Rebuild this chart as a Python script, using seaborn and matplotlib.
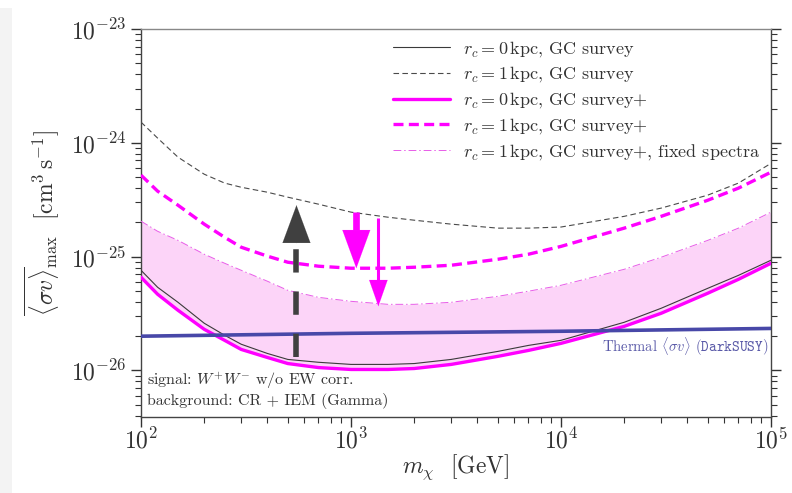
import matplotlib
matplotlib.use("Agg")
import matplotlib.pyplot as plt
from matplotlib.patches import Rectangle
import numpy as np
import seaborn as sns

# ---------------- data ----------------
mass = [100, 120, 150, 200, 250, 300, 400, 500, 700, 1000, 1500, 2000, 3000, 5000,
        7000, 1e4, 2e4, 3e4, 5e4, 7e4, 1e5]

rc0_survey = [7.59e-26, 5.38e-26, 3.97e-26, 2.60e-26, 2.04e-26, 1.70e-26, 1.41e-26,
              1.25e-26, 1.18e-26, 1.13e-26, 1.13e-26, 1.15e-26, 1.25e-26, 1.47e-26,
              1.66e-26, 1.84e-26, 2.65e-26, 3.52e-26, 5.27e-26, 6.85e-26, 9.30e-26]
rc1_survey = [1.52e-24, 1.10e-24, 7.48e-25, 5.30e-25, 4.43e-25, 4.07e-25, 3.68e-25,
              3.33e-25, 2.89e-25, 2.46e-25, 2.22e-25, 2.09e-25, 1.93e-25, 1.78e-25,
              1.78e-25, 1.82e-25, 2.26e-25, 2.67e-25, 3.47e-25, 4.43e-25, 6.60e-25]
rc0_surveyp = [6.59e-26, 4.67e-26, 3.38e-26, 2.30e-26, 1.84e-26, 1.53e-26, 1.30e-26,
               1.15e-26, 1.06e-26, 1.02e-26, 1.02e-26, 1.04e-26, 1.13e-26, 1.33e-26,
               1.50e-26, 1.73e-26, 2.44e-26, 3.18e-26, 4.77e-26, 6.32e-26, 8.75e-26]
rc1_surveyp = [5.20e-25, 3.76e-25, 2.83e-25, 1.93e-25, 1.48e-25, 1.21e-25, 1.01e-25,
               8.93e-26, 8.24e-26, 7.91e-26, 7.91e-26, 8.07e-26, 8.40e-26, 9.48e-26,
               1.05e-25, 1.23e-25, 1.78e-25, 2.26e-25, 3.13e-25, 4.00e-25, 5.52e-25]
rc1_fixed = [2.05e-25, 1.67e-25, 1.39e-25, 1.05e-25, 8.75e-26, 7.59e-26, 6.08e-26,
             5.06e-26, 4.39e-26, 4.05e-26, 3.81e-26, 3.81e-26, 3.97e-26, 4.48e-26,
             4.97e-26, 5.60e-26, 7.74e-26, 9.88e-26, 1.39e-25, 1.78e-25, 2.46e-25]

thermal_mass = [100, 1000, 1e4, 1e5]
thermal_sv = [2.00e-26, 2.12e-26, 2.21e-26, 2.34e-26]

legend_labels = [r"$r_c = 0\,\mathrm{kpc}$, GC survey",
                 r"$r_c = 1\,\mathrm{kpc}$, GC survey",
                 r"$r_c = 0\,\mathrm{kpc}$, GC survey+",
                 r"$r_c = 1\,\mathrm{kpc}$, GC survey+",
                 r"$r_c = 1\,\mathrm{kpc}$, GC survey+, fixed spectra"]

# annotation arrows: (mass, shaft start, head base, tip)
gray_arrow = (550, 1.30e-26, 1.31e-25, 2.83e-25)
mag_arrow1 = (1060, 2.46e-25, 1.71e-25, 7.9e-26)
mag_arrow2 = (1350, 2.20e-25, 6.19e-26, 3.66e-26)

# ---------------- style ----------------
sns.set_style("ticks")
plt.rcParams["font.family"] = ["cmr10", "DejaVu Serif"]
plt.rcParams["mathtext.fontset"] = "cm"
plt.rcParams["axes.formatter.use_mathtext"] = True
plt.rcParams["axes.unicode_minus"] = True

W, H = 792, 493
fig = plt.figure(figsize=(W / 100, H / 100), dpi=100)
fig.patch.set_facecolor("white")
# faint screenshot border on the left
fig.patches.append(Rectangle((0, 0), 12 / W, (H - 8) / H, transform=fig.transFigure,
                             facecolor="#f3f3f3", edgecolor="none", zorder=-10))

L, R, T, B = 141, 771, 29, 417
ax = fig.add_axes([L / W, (H - B) / H, (R - L) / W, (B - T) / H])
ax.set_facecolor("white")
ax.set_xscale("log")
ax.set_yscale("log")

magenta = "#ff00ff"
ax.fill_between(mass, rc0_surveyp, rc1_fixed, color="#fcd4f8", lw=0, zorder=1)

sns.lineplot(x=mass, y=rc0_survey, ax=ax, color="#3a3a3a", lw=0.8,
             label=legend_labels[0], zorder=4)
sns.lineplot(x=mass, y=rc1_survey, ax=ax, color="#4a4a4a", lw=0.8,
             linestyle=(0, (5, 3)), label=legend_labels[1], zorder=4)
sns.lineplot(x=mass, y=rc0_surveyp, ax=ax, color=magenta, lw=2.4,
             label=legend_labels[2], zorder=3)
sns.lineplot(x=mass, y=rc1_surveyp, ax=ax, color=magenta, lw=2.4,
             linestyle=(0, (3.0, 1.6)), label=legend_labels[3], zorder=3)
sns.lineplot(x=mass, y=rc1_fixed, ax=ax, color="#e85ce8", lw=0.7,
             linestyle=(0, (8, 3, 1.5, 3)), label=legend_labels[4], zorder=3)

sns.lineplot(x=thermal_mass, y=thermal_sv, ax=ax, color="#4848a8", lw=2.6,
             zorder=5, legend=False)
ax.text(0.995, 2.05e-26, r"Thermal $\langle\sigma v\rangle$ ($\mathtt{DarkSUSY}$)",
        transform=ax.get_yaxis_transform(), ha="right", va="top",
        fontsize=10.5, color="#5a5aa8", zorder=6)

# gray dashed arrow
gm, gs, gb, gt = gray_arrow
ax.plot([gm, gm], [gs, gb], color="#404040", lw=4.0, linestyle=(0, (4.2, 3.4)),
        solid_capstyle="butt", dash_capstyle="butt", zorder=6)
ax.annotate("", xy=(gm, gt), xytext=(gm, gb),
            arrowprops=dict(arrowstyle="-|>,head_length=1.35,head_width=0.5",
                            mutation_scale=20, color="#404040", lw=0.1,
                            shrinkA=0, shrinkB=0), zorder=7)
# magenta arrows: shaft + head
for (mm, s, hb, tip), lw, hl, hw in [(mag_arrow1, 4.8, 1.37, 0.5),
                                      (mag_arrow2, 2.2, 0.94, 0.33)]:
    ax.plot([mm, mm], [s, hb], color=magenta, lw=lw, solid_capstyle="butt", zorder=7)
    ax.annotate("", xy=(mm, tip), xytext=(mm, hb),
                arrowprops=dict(arrowstyle=f"-|>,head_length={hl},head_width={hw}",
                                mutation_scale=20, color=magenta, lw=0.1,
                                shrinkA=0, shrinkB=0), zorder=7)

ax.text(0.01, 0.093, r"signal: $W^{+}W^{-}$ w/o EW corr.", transform=ax.transAxes,
        fontsize=11.5, color="#333333", va="center", ha="left")
ax.text(0.01, 0.041, "background: CR + IEM (Gamma)", transform=ax.transAxes,
        fontsize=11.5, color="#333333", va="center", ha="left")

ax.set_xlim(1e2, 1e5)
ax.set_ylim(3.9e-27, 1e-23)

ax.set_xlabel(r"$m_\chi$  [GeV]", fontsize=17, color="#333333", labelpad=-1)
ax.set_ylabel(r"$\overline{\langle \sigma v\rangle}_{\rm max}$  $[\mathrm{cm}^3\,\mathrm{s}^{-1}]$",
              fontsize=17, color="#333333", labelpad=6)

ax.tick_params(axis="both", which="both", direction="out", right=True, top=False,
               colors="#333333", labelsize=17)
ax.tick_params(axis="x", which="major", pad=1)
ax.tick_params(axis="both", which="major", length=7, width=1.0)
ax.tick_params(axis="both", which="minor", length=4, width=0.8)
for s in ax.spines.values():
    s.set_color("#444444")
    s.set_linewidth(1.0)
ax.spines["top"].set_color("#888888")
ax.spines["right"].set_visible(True)
ax.spines["top"].set_visible(True)

leg = ax.legend(loc="upper left", bbox_to_anchor=(0.4, 0.975), frameon=False,
                fontsize=13, handlelength=3.15, handletextpad=0.7,
                labelspacing=0.33, borderpad=0, borderaxespad=0)
for t in leg.get_texts():
    t.set_color("#333333")

fig.savefig("out.png", dpi=100, facecolor=fig.get_facecolor())
